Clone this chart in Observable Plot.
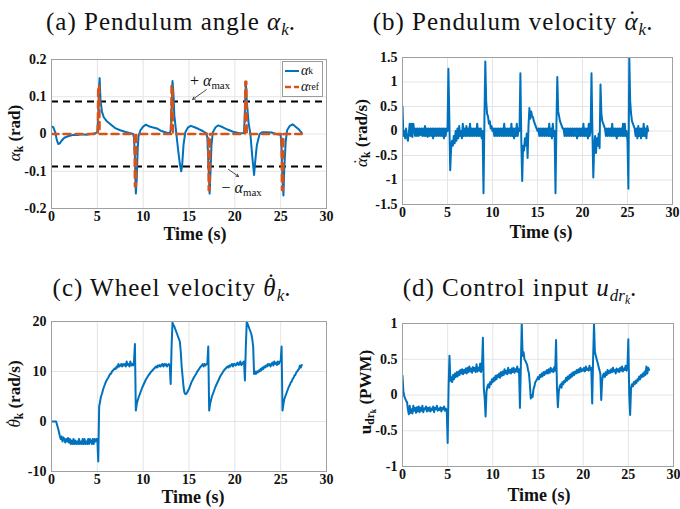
<!DOCTYPE html>
<html>
<head>
<meta charset="utf-8">
<script src="https://cdn.jsdelivr.net/npm/d3@7"></script>
<script src="https://cdn.jsdelivr.net/npm/@observablehq/plot@0.6"></script>
<style>
  body { margin: 0; background: #fff; }
  #fig { position: relative; width: 680px; height: 509px; overflow: hidden;
         font-family: "Liberation Serif", "DejaVu Serif", "Nimbus Roman", "FreeSerif", "Noto Serif", "Times New Roman", serif; color: #111; }
  .panel { position: absolute; }
  .title { position: absolute; font-size: 25px; letter-spacing: 1px; white-space: nowrap; transform: translate(-50%, -50%); }
  .xlab { position: absolute; font-weight: bold; font-size: 18px; white-space: nowrap; transform: translate(-50%, -50%); }
  .ylab { position: absolute; font-weight: bold; font-size: 17px; white-space: nowrap; transform: translate(-50%, -50%) rotate(-90deg); }
  .note { position: absolute; font-size: 16px; white-space: nowrap; transform: translate(-50%, -50%); }
  sub { font-size: 0.68em; vertical-align: -0.3em; line-height: 0; letter-spacing: 0; }
  .dot { position: relative; display: inline-block; }
  .dot::after { content: "\02D9"; position: absolute; left: 0.14em; font-style: normal; font-weight: normal; }
  .dot.low::after { top: -0.1em; }
  .dot.high::after { top: -0.2em; }
  .legend { position: absolute; background: #fff; border: 1px solid #9a9a9a; font-size: 14px; padding: 1px 3px 1px 2px; }
  .legend div { display: flex; align-items: center; height: 16px; }
  .legend svg { margin-right: 2px; }
</style>
</head>
<body>
<div id="fig"></div>
<script>
// Time axis shared by all four panels
const timeDomain = [0, 30];
const timeTicks = [0, 5, 10, 15, 20, 25, 30];
const sampleStep = 0.1; // seconds between samples of the recorded signals

// (a) pendulum angle alpha_k [time s, rad]
const alphaK = [
  [0,0.02],[0.2,0.018],[0.4,0.005],[0.6,-0.018],[0.75,-0.027],[0.9,-0.025],[1.1,-0.018],[1.4,-0.01],
  [1.8,-0.006],[2.3,-0.003],[2.8,-0.003],[3.3,-0.001],[3.8,-0.002],[4.3,0.0],[4.8,0.002],[5.0,0.005],
  [5.1,0.05],[5.2,0.13],[5.25,0.15],[5.35,0.09],[5.5,0.06],[5.7,0.045],[6.0,0.035],[6.5,0.025],
  [7.0,0.015],[7.5,0.01],[8.0,0.006],[8.5,0.003],[8.9,0.0],[9.0,-0.01],[9.1,-0.06],[9.2,-0.16],
  [9.3,-0.12],[9.4,-0.04],[9.5,-0.005],[9.7,0.01],[10.0,0.02],[10.3,0.025],[10.7,0.02],[11.0,0.018],
  [11.5,0.015],[12.0,0.008],[12.5,0.004],[12.9,0.002],[13.0,0.01],[13.1,0.07],[13.2,0.142],[13.3,0.11],
  [13.4,0.05],[13.6,0.005],[13.8,-0.04],[14.0,-0.08],[14.15,-0.1],[14.25,-0.085],[14.4,-0.03],[14.6,0.005],
  [14.9,0.018],[15.2,0.022],[15.6,0.018],[16.0,0.014],[16.5,0.008],[16.9,0.002],[17.0,-0.01],[17.1,-0.07],
  [17.25,-0.16],[17.35,-0.1],[17.45,-0.03],[17.6,0.005],[17.9,0.018],[18.2,0.023],[18.7,0.018],[19.2,0.012],
  [19.8,0.006],[20.5,0.002],[21.0,0.003],[21.1,0.06],[21.2,0.14],[21.3,0.09],[21.5,0.03],[21.7,0.0],
  [21.9,-0.06],[22.1,-0.11],[22.2,-0.08],[22.4,-0.03],[22.7,0.0],[23.0,0.005],[23.5,0.005],[24.0,0.004],
  [24.5,0.0],[25.0,-0.002],[25.1,-0.04],[25.2,-0.12],[25.3,-0.165],[25.4,-0.09],[25.55,-0.02],[25.7,0.01],
  [26.0,0.022],[26.3,0.026],[26.6,0.02],[27.0,0.012],[27.3,0.003]
];

// (a) reference angle alpha_ref [time s, rad]
const alphaRef = [
  [0,0],[5.05,0],[5.1,0.13],[5.2,0.13],[5.25,0],[9.05,0],[9.1,-0.14],[9.2,-0.14],[9.25,0],
  [13.05,0],[13.1,0.13],[13.2,0.13],[13.25,0],[17.1,0],[17.15,-0.15],[17.25,-0.15],[17.3,0],
  [21.1,0],[21.15,0.14],[21.25,0.14],[21.3,0],[25.1,0],[25.15,-0.15],[25.25,-0.15],[25.3,0],[27.3,0]
];

// (a) angle bound
const alphaMax = 0.087;
// (a) arrows pointing from the bound labels [t1, y1, t2, y2]
const boundArrows = [[16.9, 0.119, 15.4, 0.093], [19.3, -0.095, 20.4, -0.114]];
// (a) bound label anchors [t, y, sign]
const boundLabels = [[17.35, 0.141, "+"], [20.8, -0.146, "\u2212"]];

// (b) pendulum velocity, one value per sampleStep from t = 0 [rad/s]
const alphaRate = [
  0.5,-0.1,0.0,-0.15,0.05,-0.12,-0.2,-0.05,0.15,-0.1,
  0.15,-0.12,0.15,0.02,-0.1,0.05,-0.1,0.05,-0.1,0.05,
  -0.08,0.05,-0.1,0.05,-0.1,0.1,-0.1,0.05,-0.12,0.05,
  -0.1,0.05,-0.1,0.05,-0.15,0.05,-0.1,0.05,-0.1,0.05,
  -0.1,0.05,-0.1,0.05,-0.1,0.05,-0.15,0.05,-0.1,0.05,
  0.0,1.27,0.3,-0.8,-0.35,-0.2,-0.3,-0.1,-0.25,0.0,
  -0.2,0.05,-0.15,0.1,-0.1,0.0,-0.15,0.15,-0.1,0.05,
  -0.1,0.1,-0.1,0.05,-0.1,0.15,-0.1,0.05,-0.1,0.05,
  -0.1,0.05,-0.1,0.15,-0.1,0.05,-0.1,0.05,-0.15,0.0,
  -1.27,0.2,1.42,0.6,0.35,0.3,0.15,0.2,0.05,0.1,
  0.0,0.05,-0.1,0.05,-0.1,0.05,-0.1,0.05,-0.1,0.05,
  -0.1,0.05,-0.1,0.15,-0.1,0.05,-0.1,0.05,-0.1,0.05,
  -0.1,0.15,-0.1,0.05,-0.15,0.05,-0.1,0.15,-0.1,0.05,
  0.0,1.18,-0.2,-1.02,-0.3,-0.4,-0.15,-0.3,-0.05,-0.55,
  0.1,0.47,0.25,0.4,0.3,0.28,0.2,0.15,0.1,0.05,
  0.0,0.05,-0.1,0.05,-0.1,0.05,-0.1,0.05,-0.1,0.05,
  -0.1,0.05,-0.1,0.15,-0.1,0.05,-0.15,0.15,-0.1,0.0,
  -1.27,0.1,1.1,0.4,0.3,0.2,0.15,0.1,0.05,0.05,
  -0.1,0.05,-0.1,0.05,-0.1,0.05,-0.1,0.05,-0.1,0.05,
  -0.1,0.05,-0.1,0.05,-0.15,0.05,-0.1,0.05,-0.1,0.05,
  -0.1,0.15,-0.1,0.05,-0.1,0.05,-0.15,0.15,-0.1,0.0,
  1.18,0.0,-0.95,-0.3,-0.1,-0.45,-0.15,-0.3,-0.05,-0.35,
  0.95,0.35,0.2,0.15,0.1,0.05,-0.1,0.05,-0.1,0.05,
  -0.1,0.05,-0.1,0.15,-0.1,0.05,-0.1,0.05,-0.15,0.05,
  -0.1,0.05,-0.1,0.05,-0.1,0.15,-0.1,0.15,-0.1,0.0,
  -0.2,-1.18,1.5,0.6,0.35,0.2,0.15,0.1,0.05,-0.1,
  0.05,-0.15,0.1,-0.1,0.05,-0.15,0.05,-0.1,0.15,-0.1,
  0.05,-0.15,0.1,0.0
];

// (c) wheel velocity, one value per sampleStep from t = 0 [rad/s]
const wheelRate = [
  0,0,0,0,0,0,-0.6,-1.3,-2.0,-2.8,
  -3.5,-3.0,-4.0,-3.2,-3.5,-4.2,-3.5,-4.0,-3.3,-4.2,
  -3.5,-4.5,-3.8,-4.5,-3.5,-4.5,-3.8,-4.5,-4.0,-4.5,
  -3.5,-4.5,-4.0,-4.5,-3.5,-4.5,-3.5,-4.5,-4.0,-4.5,
  -3.5,-4.5,-3.5,-4.0,-4.5,-3.5,-4.5,-3.5,-4.0,-3.5,
  -3.5,-8.0,3.0,4.0,5.0,5.5,6.2,6.8,7.3,7.8,
  8.2,8.5,8.8,9.2,9.5,9.6,10.0,10.2,10.4,10.6,
  10.5,11.0,10.8,11.5,11.0,11.2,11.5,11.0,11.5,11.2,
  11.5,11.0,12.0,11.3,11.5,11.0,12.0,11.2,11.5,11.2,
  12.0,15.5,2.2,3.5,4.2,4.8,5.3,5.8,6.3,6.8,
  7.2,7.6,8.0,8.4,8.7,9.0,9.3,9.5,9.8,10.0,
  10.2,10.4,10.6,10.8,11.0,10.8,11.2,11.0,11.3,11.0,
  11.3,11.5,11.0,11.5,11.2,11.5,11.0,11.3,11.5,11.2,
  7.5,15.0,19.8,19.3,19.0,18.5,18.0,17.5,17.0,16.5,
  16.0,14.0,11.0,9.0,7.0,5.8,5.5,5.5,5.8,6.2,
  6.5,7.0,7.5,8.0,8.3,8.7,9.0,9.3,9.6,10.0,
  10.2,10.5,10.8,11.0,11.2,11.5,11.0,11.5,11.2,11.5,
  11.5,15.0,2.2,3.5,4.3,5.0,5.5,6.0,6.5,7.0,
  7.4,7.8,8.2,8.6,9.0,9.3,9.6,9.9,10.2,10.4,
  10.6,10.8,11.0,10.8,11.2,11.0,11.3,11.5,11.0,11.5,
  11.5,11.2,11.5,11.8,11.3,11.5,12.0,11.3,11.5,11.8,
  12.0,8.2,15.0,20.0,19.5,19.0,18.5,18.0,17.5,16.5,
  15.0,9.5,10.0,9.5,10.0,9.8,10.2,10.0,10.5,10.2,
  10.8,10.5,11.0,10.8,11.2,11.0,11.5,11.2,11.5,11.0,
  11.5,11.8,11.2,12.0,11.5,11.8,11.3,12.0,11.5,12.0,
  12.0,15.0,2.2,3.5,4.5,5.0,5.5,6.0,6.5,7.0,
  7.3,7.8,8.0,8.5,8.7,9.2,9.3,9.8,10.0,10.3,
  10.5,11.2,10.8,11.3
];

// (d) control input, one value per sampleStep from t = 0 [PWM]
const controlInput = [
  0.27,0.05,-0.02,-0.05,-0.08,-0.1,-0.2,-0.27,-0.15,-0.25,
  -0.2,-0.26,-0.15,-0.22,-0.18,-0.25,-0.17,-0.23,-0.16,-0.24,
  -0.18,-0.22,-0.15,-0.24,-0.19,-0.2,-0.16,-0.23,-0.18,-0.22,
  -0.17,-0.23,-0.19,-0.21,-0.16,-0.24,-0.18,-0.2,-0.15,-0.22,
  -0.19,-0.21,-0.17,-0.23,-0.18,-0.2,-0.16,-0.22,-0.19,-0.21,
  -0.67,0.1,0.55,0.2,0.25,0.18,0.28,0.22,0.3,0.25,
  0.32,0.26,0.33,0.28,0.35,0.3,0.36,0.29,0.35,0.31,
  0.37,0.3,0.38,0.32,0.4,0.33,0.37,0.31,0.39,0.34,
  0.38,0.32,0.43,0.33,0.38,0.34,0.44,0.32,0.39,0.8,
  0.1,-0.05,-0.3,0.05,0.12,0.15,0.1,0.18,0.15,0.22,
  0.18,0.24,0.2,0.27,0.22,0.28,0.25,0.3,0.24,0.32,
  0.27,0.33,0.28,0.36,0.3,0.34,0.29,0.38,0.31,0.35,
  0.3,0.37,0.32,0.38,0.31,0.36,0.33,0.4,0.32,0.36,
  -0.18,0.4,1.0,0.55,0.6,0.5,0.48,0.45,0.42,0.35,
  0.3,0.15,-0.05,0.0,-0.03,0.08,0.12,0.18,0.2,0.22,
  0.25,0.22,0.28,0.25,0.3,0.26,0.32,0.28,0.33,0.3,
  0.35,0.3,0.36,0.31,0.38,0.33,0.36,0.32,0.39,0.34,
  0.77,0.1,-0.17,0.05,0.12,0.15,0.1,0.18,0.15,0.2,
  0.18,0.24,0.2,0.26,0.22,0.28,0.24,0.3,0.26,0.32,
  0.28,0.33,0.3,0.35,0.31,0.36,0.32,0.38,0.33,0.36,
  0.34,0.38,0.33,0.4,0.35,0.37,0.34,0.41,0.35,0.38,
  -0.12,0.5,1.0,0.6,0.55,0.5,0.45,0.4,0.35,0.3,
  -0.07,0.2,0.28,0.3,0.25,0.32,0.28,0.35,0.3,0.34,
  0.31,0.36,0.32,0.38,0.33,0.35,0.3,0.37,0.33,0.36,
  0.32,0.38,0.34,0.4,0.33,0.37,0.35,0.41,0.34,0.38,
  0.78,0.0,-0.28,0.1,0.15,0.12,0.18,0.15,0.2,0.17,
  0.22,0.2,0.26,0.22,0.28,0.25,0.3,0.26,0.33,0.28,
  0.4,0.3,0.38,0.35
];

// Per-panel y axes
const alphaTicks = [-0.2, -0.1, 0, 0.1, 0.2];
const alphaRateTicks = [-1.5, -1, -0.5, 0, 0.5, 1, 1.5];
const wheelTicks = [-10, 0, 10, 20];
const controlTicks = [-1, -0.5, 0, 0.5, 1];

const blue = "#0072BD";
const orange = "#D95319";
const serif = "'Liberation Serif', 'DejaVu Serif', 'Nimbus Roman', 'FreeSerif', 'Noto Serif', 'Times New Roman', serif";

const pairs = (arr) => arr.map(([t, v]) => ({t, v}));
const sampled = (arr) => arr.map((v, i) => ({t: +(i * sampleStep).toFixed(2), v}));

const fig = document.getElementById("fig");

function addHTML(cls, html, x, y) {
  const d = document.createElement("div");
  d.className = cls;
  d.innerHTML = html;
  d.style.left = x + "px";
  d.style.top = y + "px";
  fig.appendChild(d);
  return d;
}

// Build one panel so that its plotting frame sits at [x0,x1]×[y0,y1] of the figure
function panel({left, frame: [x0, x1, y0, y1], yDomain, yTicks, marks}) {
  const top = y0 - 10;
  const width = 340;
  const height = (y1 - top) + 30;
  const chart = Plot.plot({
    width, height,
    marginLeft: x0 - left, marginRight: left + width - x1,
    marginTop: y0 - top, marginBottom: height - (y1 - top),
    style: {fontFamily: serif, fontSize: "14px", fontWeight: "bold", color: "#111", background: "transparent"},
    x: {domain: timeDomain, label: null},
    y: {domain: yDomain, label: null},
    marks: [
      Plot.gridX(timeTicks, {stroke: "#e4e4e4", strokeOpacity: 1}),
      Plot.gridY(yTicks, {stroke: "#e4e4e4", strokeOpacity: 1}),
      ...marks,
      Plot.frame({stroke: "#a0a0a0"}),
      Plot.axisX({ticks: timeTicks, tickSize: 0, tickPadding: 3, tickFormat: d => String(d)}),
      Plot.axisY({ticks: yTicks, tickSize: 0, tickPadding: 5, tickFormat: d => String(d)})
    ]
  });
  chart.classList.add("panel");
  chart.style.left = left + "px";
  chart.style.top = top + "px";
  fig.appendChild(chart);
  return chart;
}

// (a) Pendulum angle
const chartA = panel({
  left: 0, frame: [51, 326, 59, 208], yDomain: [-0.2, 0.2], yTicks: alphaTicks,
  marks: [
    Plot.ruleY([alphaMax, -alphaMax], {stroke: "#000", strokeWidth: 2, strokeDasharray: "7,5"}),
    Plot.line(pairs(alphaK), {x: "t", y: "v", stroke: blue, strokeWidth: 2, clip: true}),
    Plot.line(pairs(alphaRef), {x: "t", y: "v", stroke: orange, strokeWidth: 2.5, strokeDasharray: "7,5", clip: true}),
    Plot.arrow(boundArrows, {x1: d => d[0], y1: d => d[1], x2: d => d[2], y2: d => d[3], stroke: "#222", strokeWidth: 0.8, headLength: 5})
  ]
});
{
  const sx = chartA.scale("x"), sy = chartA.scale("y");
  const top = 59 - 10;
  for (const [t, y, sign] of boundLabels) {
    addHTML("note", `${sign} <i>α</i><sub>max</sub>`, sx.apply(t), top + sy.apply(y));
  }
}
// legend of panel (a)
addHTML("legend",
  `<div><svg width="14" height="6"><line x1="0" y1="3" x2="14" y2="3" stroke="${blue}" stroke-width="2"/></svg><i>α</i><sub>k</sub></div>` +
  `<div><svg width="14" height="6"><line x1="0" y1="3" x2="14" y2="3" stroke="${orange}" stroke-width="2.5" stroke-dasharray="6,3"/></svg><i>α</i><sub>ref</sub></div>`,
  282, 61);

// (b) Pendulum velocity
panel({
  left: 340, frame: [402, 672, 57, 204], yDomain: [-1.5, 1.5], yTicks: alphaRateTicks,
  marks: [Plot.line(sampled(alphaRate), {x: "t", y: "v", stroke: blue, strokeWidth: 2, clip: true})]
});

// (c) Wheel velocity
panel({
  left: 0, frame: [51, 326, 321, 471], yDomain: [-10, 20], yTicks: wheelTicks,
  marks: [Plot.line(sampled(wheelRate), {x: "t", y: "v", stroke: blue, strokeWidth: 2, clip: true})]
});

// (d) Control input
panel({
  left: 340, frame: [402, 673, 323, 466], yDomain: [-1, 1], yTicks: controlTicks,
  marks: [Plot.line(sampled(controlInput), {x: "t", y: "v", stroke: blue, strokeWidth: 2, clip: true})]
});

// Titles
addHTML("title", `(a) Pendulum angle <i>α<sub>k</sub></i>.`, 171, 22);
addHTML("title", `(b) Pendulum velocity <i><span class="dot low">α</span><sub>k</sub></i>.`, 513, 22);
addHTML("title", `(c) Wheel velocity <i><span class="dot high">θ</span><sub>k</sub></i>.`, 172, 288);
addHTML("title", `(d) Control input <i>u<sub>dr<sub>k</sub></sub></i>.`, 520, 288);

// Axis titles
addHTML("xlab", "Time (s)", 195, 234);
addHTML("xlab", "Time (s)", 541, 232);
addHTML("xlab", "Time (s)", 193, 497);
addHTML("xlab", "Time (s)", 539, 495);
addHTML("ylab", `<i style="font-weight:normal">α</i><sub>k</sub> (rad)`, 15, 133);
addHTML("ylab", `<i style="font-weight:normal" class="dot low">α</i><sub>k</sub> (rad/s)`, 362, 133);
addHTML("ylab", `<i style="font-weight:normal" class="dot high">θ</i><sub>k</sub> (rad/s)`, 15, 394);
addHTML("ylab", `u<sub>dr<sub>k</sub></sub> (PWM)`, 366, 392);
</script>
</body>
</html>
